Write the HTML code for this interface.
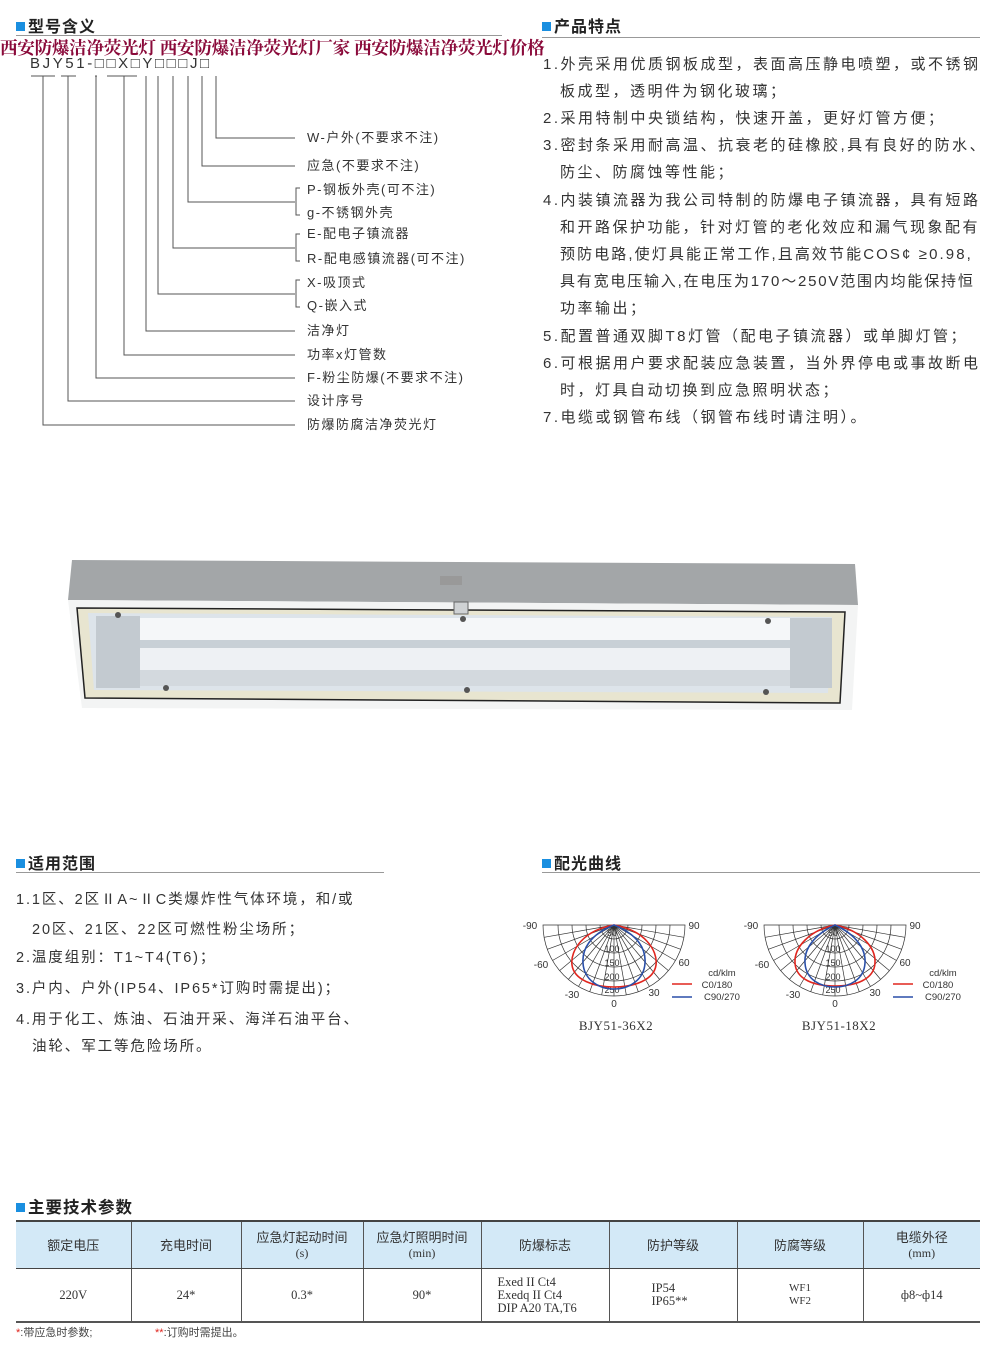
<!DOCTYPE html>
<html><head><meta charset="utf-8"><style>
body{margin:0;background:#fff;}
#p{position:relative;width:990px;height:1356px;overflow:hidden;font-family:"Liberation Sans","Noto Sans CJK SC",sans-serif;color:#333;}
.a{position:absolute;white-space:nowrap;}
.h{font-size:16px;font-weight:bold;color:#222;letter-spacing:1px;}
.h:before{content:"";display:inline-block;width:9px;height:9px;background:#1a8fe0;margin-right:3px;vertical-align:1px;}
.r{font-size:15px;letter-spacing:2.5px;line-height:18px;color:#333;}
.l{font-size:14.5px;letter-spacing:1.9px;line-height:18px;color:#333;}
.d{font-size:13px;letter-spacing:1.5px;line-height:16px;color:#333;}
table{position:absolute;left:16px;top:1220px;width:964px;border-collapse:collapse;font-size:13px;color:#333;}
td{text-align:center;border-left:1px solid #555;border-right:1px solid #555;padding:0;}
tr.hd td{background:#d3e9f7;height:46px;border-top:2px solid #444;border-bottom:1px solid #444;line-height:15px;}
tr.bd td{height:52px;border-bottom:2px solid #555;font-family:"Liberation Serif","Noto Serif CJK SC",serif;line-height:13px;font-size:12.5px;}
td:first-child{border-left:none;} td:last-child{border-right:none;}
.s{font-family:"Liberation Serif",serif;font-size:12px;}
</style></head><body><div id="p">

<div class="a h" style="left:16px;top:13px;">型号含义</div>
<div class="a" style="left:16px;top:35px;width:486px;height:1px;background:#999;"></div>
<div class="a h" style="left:542px;top:13px;">产品特点</div>
<div class="a" style="left:542px;top:37px;width:438px;height:1px;background:#999;"></div>
<div class="a" style="left:30px;top:56px;font-size:15px;letter-spacing:2.6px;color:#333;line-height:16px;">BJY51-□□X□Y□□□J□</div>
<div class="a" style="left:0px;top:38px;font-family:'Liberation Serif','Noto Serif CJK SC',serif;font-weight:bold;font-size:17.6px;color:#8a0a3a;letter-spacing:-0.3px;line-height:20px;">西安防爆洁净荧光灯 西安防爆洁净荧光灯厂家 西安防爆洁净荧光灯价格</div>

<svg class="a" style="left:0;top:0" width="500" height="440">
<g stroke="#555" stroke-width="1" fill="none">
<path d="M31 76H55M61 76H76M107 76H137M95 76H97"/>
<path d="M216 76V138H295M202 76V166H295M188 76V202H295M173 76V248H295M158 76V294H295M146 76V331H295M124 76V355H295M96 76V378H295M68 76V401H295M43 76V425H295"/>
<path d="M300 188H296V215H300M300 234H296V261H300M300 280H296V307H300"/>
</g></svg>
<div class="a d" style="left:307px;top:130px;">W-户外(不要求不注)</div>
<div class="a d" style="left:307px;top:158px;">应急(不要求不注)</div>
<div class="a d" style="left:307px;top:182px;">P-钢板外壳(可不注)</div>
<div class="a d" style="left:307px;top:205px;">g-不锈钢外壳</div>
<div class="a d" style="left:307px;top:226px;">E-配电子镇流器</div>
<div class="a d" style="left:307px;top:251px;">R-配电感镇流器(可不注)</div>
<div class="a d" style="left:307px;top:275px;">X-吸顶式</div>
<div class="a d" style="left:307px;top:298px;">Q-嵌入式</div>
<div class="a d" style="left:307px;top:323px;">洁净灯</div>
<div class="a d" style="left:307px;top:347px;">功率x灯管数</div>
<div class="a d" style="left:307px;top:370px;">F-粉尘防爆(不要求不注)</div>
<div class="a d" style="left:307px;top:393px;">设计序号</div>
<div class="a d" style="left:307px;top:417px;">防爆防腐洁净荧光灯</div>

<div class="a r" style="left:543px;top:56px;">1.外壳采用优质钢板成型，表面高压静电喷塑，或不锈钢</div>
<div class="a r" style="left:560px;top:83px;">板成型，透明件为钢化玻璃；</div>
<div class="a r" style="left:543px;top:110px;">2.采用特制中央锁结构，快速开盖，更好灯管方便；</div>
<div class="a r" style="left:543px;top:137px;">3.密封条采用耐高温、抗衰老的硅橡胶,具有良好的防水、</div>
<div class="a r" style="left:560px;top:164px;">防尘、防腐蚀等性能；</div>
<div class="a r" style="left:543px;top:192px;">4.内装镇流器为我公司特制的防爆电子镇流器，具有短路</div>
<div class="a r" style="left:560px;top:219px;">和开路保护功能，针对灯管的老化效应和漏气现象配有</div>
<div class="a r" style="left:560px;top:246px;letter-spacing:2.1px;">预防电路,使灯具能正常工作,且高效节能COS¢ ≥0.98,</div>
<div class="a r" style="left:560px;top:273px;letter-spacing:1.8px;">具有宽电压输入,在电压为170～250V范围内均能保持恒</div>
<div class="a r" style="left:560px;top:300px;">功率输出；</div>
<div class="a r" style="left:543px;top:328px;">5.配置普通双脚T8灯管（配电子镇流器）或单脚灯管；</div>
<div class="a r" style="left:543px;top:355px;">6.可根据用户要求配装应急装置，当外界停电或事故断电</div>
<div class="a r" style="left:560px;top:382px;">时，灯具自动切换到应急照明状态；</div>
<div class="a r" style="left:543px;top:409px;">7.电缆或钢管布线（钢管布线时请注明）。</div>

<svg class="a" style="left:0;top:550px" width="990" height="170">
<polygon points="72,10 855,14 858,55 68,50" fill="#a3a6a8"/>
<polygon points="68,50 858,55 852,160 82,158" fill="#f3f4f4"/>
<polygon points="77,58 845,62 840,153 85,148" fill="#e8e5d0" stroke="#222" stroke-width="1.5"/>
<polygon points="88,63 832,67 828,143 94,140" fill="#dde4ea"/>
<rect x="140" y="68" width="655" height="22" fill="#f5f7f9"/>
<rect x="140" y="90" width="655" height="8" fill="#c8d0d6"/>
<rect x="140" y="98" width="655" height="22" fill="#eef1f4"/>
<rect x="140" y="120" width="655" height="16" fill="#d3d9de"/>
<rect x="96" y="66" width="44" height="72" fill="#c3cad0"/>
<rect x="790" y="68" width="42" height="70" fill="#c3cad0"/>
<rect x="454" y="52" width="14" height="12" fill="#cfd2d4" stroke="#666"/>
<rect x="440" y="26" width="22" height="9" fill="#999"/>
<g fill="#555"><circle cx="118" cy="65" r="3"/><circle cx="463" cy="69" r="3"/><circle cx="768" cy="71" r="3"/><circle cx="166" cy="138" r="3"/><circle cx="467" cy="140" r="3"/><circle cx="766" cy="142" r="3"/></g>
</svg>

<div class="a h" style="left:16px;top:850px;">适用范围</div>
<div class="a" style="left:16px;top:872px;width:368px;height:1px;background:#999;"></div>
<div class="a h" style="left:542px;top:850px;">配光曲线</div>
<div class="a" style="left:542px;top:872px;width:438px;height:1px;background:#999;"></div>

<div class="a l" style="left:16px;top:891px;">1.1区、2区ⅡA~ⅡC类爆炸性气体环境，和/或</div>
<div class="a l" style="left:32px;top:921px;">20区、21区、22区可燃性粉尘场所；</div>
<div class="a l" style="left:16px;top:949px;">2.温度组别：T1~T4(T6)；</div>
<div class="a l" style="left:16px;top:980px;">3.户内、户外(IP54、IP65*订购时需提出)；</div>
<div class="a l" style="left:16px;top:1011px;">4.用于化工、炼油、石油开采、海洋石油平台、</div>
<div class="a l" style="left:32px;top:1038px;">油轮、军工等危险场所。</div>

<svg class="a" style="left:0;top:0" width="990" height="1060" font-family="Liberation Sans,sans-serif">
<defs>
<g id="grid" stroke="#333" stroke-width="0.7" fill="none">
<path d="M-71 0A71 71 0 0 0 71 0Z"/>
<path d="M-56 0A56 56 0 0 0 56 0M-42 0A42 42 0 0 0 42 0M-28 0A28 28 0 0 0 28 0M-14 0A14 14 0 0 0 14 0"/>
<path d="M0 0V71M0 0L12.3 69.9M0 0L-12.3 69.9M0 0L24.3 66.7M0 0L-24.3 66.7M0 0L35.5 61.5M0 0L-35.5 61.5M0 0L45.6 54.4M0 0L-45.6 54.4M0 0L54.4 45.6M0 0L-54.4 45.6M0 0L61.5 35.5M0 0L-61.5 35.5M0 0L66.7 24.3M0 0L-66.7 24.3M0 0L69.9 12.3M0 0L-69.9 12.3"/>
</g>
<g id="lab" font-size="9" fill="#333" text-anchor="middle">
<text x="-2" y="11">50</text><text x="-2" y="27">100</text><text x="-2" y="41">150</text><text x="-2" y="55">200</text><text x="-2" y="68">250</text>
<text x="-84" y="4" font-size="10">-90</text><text x="80" y="4" font-size="10">90</text>
<text x="-73" y="43" font-size="10">-60</text><text x="70" y="41" font-size="10">60</text>
<text x="-42" y="73" font-size="10">-30</text><text x="40" y="71" font-size="10">30</text>
<text x="0" y="82" font-size="10">0</text>
<text x="108" y="51" font-size="9.5">cd/klm</text>
<text x="103" y="63" font-size="9.5">C0/180</text>
<text x="108" y="75" font-size="9.5">C90/270</text>
</g>
</defs>
<g transform="translate(614,925)">
<use href="#grid"/><use href="#lab"/>
<path d="M0 0C-30 5-44 25-42 40C-40 55-20 62 0 62C20 62 40 55 42 40C44 25 30 5 0 0Z" fill="none" stroke="#e0261f" stroke-width="1.6"/>
<path d="M0 0C-25 10-32 25-31 38C-30 55-15 64 0 64C15 64 30 55 31 38C32 25 25 10 0 0Z" fill="none" stroke="#2a4fa8" stroke-width="1.6"/>
<path d="M58 59H78" stroke="#e0261f" stroke-width="1.6"/><path d="M58 72H78" stroke="#2a4fa8" stroke-width="1.6"/>
</g>
<g transform="translate(835,925)">
<use href="#grid"/><use href="#lab"/>
<path d="M0 0C-25 5-41 22-40 38C-39 55-20 61 0 61C20 61 39 55 40 38C41 22 25 5 0 0Z" fill="none" stroke="#e0261f" stroke-width="1.6"/>
<path d="M0 0C-22 10-31 25-30 38C-29 55-14 62 0 62C14 62 29 55 30 38C31 25 22 10 0 0Z" fill="none" stroke="#2a4fa8" stroke-width="1.6"/>
<path d="M58 59H78" stroke="#e0261f" stroke-width="1.6"/><path d="M58 72H78" stroke="#2a4fa8" stroke-width="1.6"/>
</g>
<text x="616" y="1030" text-anchor="middle" font-family="Liberation Serif,serif" font-size="13" fill="#333" letter-spacing="0.5">BJY51-36X2</text>
<text x="839" y="1030" text-anchor="middle" font-family="Liberation Serif,serif" font-size="13" fill="#333" letter-spacing="0.5">BJY51-18X2</text>
</svg>

<div class="a h" style="left:16px;top:1194px;font-size:16.5px;">主要技术参数</div>

<table>
<colgroup><col style="width:115px"><col style="width:110px"><col style="width:122px"><col style="width:118px"><col style="width:128px"><col style="width:128px"><col style="width:126px"><col style="width:117px"></colgroup>
<tr class="hd"><td>额定电压</td><td>充电时间</td><td>应急灯起动时间<br><span class="s">(s)</span></td><td>应急灯照明时间<br><span class="s">(min)</span></td><td>防爆标志</td><td>防护等级</td><td>防腐等级</td><td>电缆外径<br><span class="s">(mm)</span></td></tr>
<tr class="bd"><td>220V</td><td>24*</td><td>0.3*</td><td>90*</td><td style="text-align:left;padding-left:16px;">Exed II Ct4<br>Exedq II Ct4<br>DIP A20 TA,T6</td><td style="text-align:left;padding-left:42px;">IP54<br>IP65**</td><td style="font-size:11px;">WF1<br>WF2</td><td>ф8~ф14</td></tr>
</table>
<div class="a" style="left:16px;top:1324px;font-size:11px;color:#444;"><span style="color:#e0261f">*</span>:带应急时参数;</div>
<div class="a" style="left:155px;top:1324px;font-size:11px;color:#444;"><span style="color:#e0261f">**</span>:订购时需提出。</div>

</div></body></html>
